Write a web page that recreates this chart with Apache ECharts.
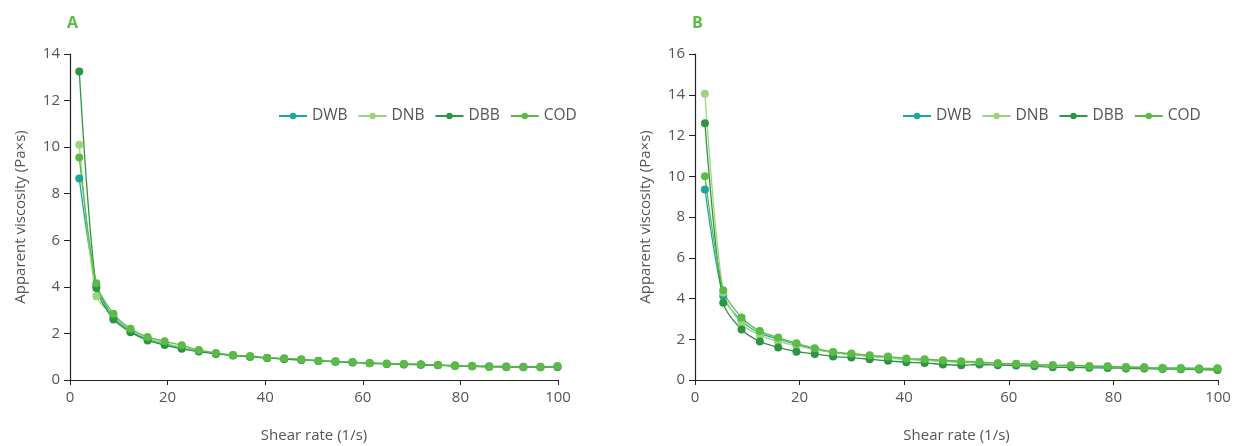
<!doctype html>
<html>
<head>
<meta charset="utf-8">
<title>Apparent viscosity vs shear rate</title>
<script src="https://cdn.jsdelivr.net/npm/echarts@6/dist/echarts.min.js"></script>
<style>
html,body{margin:0;padding:0;background:#fff;}
#chart{width:1234px;height:446px;}
</style>
</head>
<body>
<div id="chart"></div>
<script type="text/javascript">
// shear rate (1/s)
var shearRate = [1.9, 5.4, 8.9, 12.4, 15.9, 19.4, 22.9, 26.4, 29.9, 33.4, 36.9, 40.4, 43.9, 47.4, 50.9,
	54.4, 57.9, 61.4, 64.9, 68.4, 71.9, 75.4, 78.9, 82.4, 85.9, 89.4, 92.9, 96.4, 99.9];

// panel A
var dwbA = [8.65, 4.05, 2.7, 2.1, 1.75, 1.55, 1.38, 1.25, 1.14, 1.06, 1.0, 0.95, 0.91, 0.87, 0.83,
	0.79, 0.76, 0.73, 0.70, 0.68, 0.66, 0.64, 0.62, 0.60, 0.59, 0.58, 0.57, 0.57, 0.58];
var dnbA = [10.1, 3.6, 2.75, 2.15, 1.8, 1.58, 1.4, 1.26, 1.14, 1.06, 0.99, 0.94, 0.9, 0.86, 0.82,
	0.79, 0.76, 0.73, 0.71, 0.69, 0.67, 0.65, 0.63, 0.61, 0.59, 0.58, 0.57, 0.56, 0.57];
var dbbA = [13.25, 3.95, 2.6, 2.05, 1.7, 1.5, 1.34, 1.22, 1.12, 1.05, 1.0, 0.95, 0.9, 0.86, 0.82,
	0.78, 0.75, 0.72, 0.69, 0.67, 0.65, 0.63, 0.61, 0.59, 0.57, 0.56, 0.55, 0.55, 0.56];
var codA = [9.55, 4.15, 2.85, 2.2, 1.85, 1.66, 1.49, 1.29, 1.16, 1.07, 1.03, 0.96, 0.93, 0.89, 0.82,
	0.80, 0.77, 0.72, 0.70, 0.69, 0.68, 0.64, 0.60, 0.59, 0.56, 0.55, 0.55, 0.55, 0.60];

// panel B
var dwbB = [9.35, 4.12, 2.9, 2.3, 2.0, 1.75, 1.52, 1.36, 1.26, 1.17, 1.1, 1.03, 0.98, 0.93, 0.88,
	0.85, 0.81, 0.78, 0.75, 0.72, 0.7, 0.68, 0.66, 0.64, 0.62, 0.6, 0.59, 0.57, 0.56];
var dnbB = [14.05, 4.3, 2.75, 2.2, 1.88, 1.68, 1.5, 1.35, 1.25, 1.16, 1.08, 1.01, 0.96, 0.91, 0.87,
	0.83, 0.8, 0.77, 0.74, 0.71, 0.69, 0.67, 0.65, 0.63, 0.61, 0.6, 0.58, 0.57, 0.56];
var dbbB = [12.6, 3.79, 2.48, 1.89, 1.6, 1.39, 1.28, 1.15, 1.1, 1.02, 0.94, 0.87, 0.84, 0.76, 0.72,
	0.76, 0.72, 0.71, 0.68, 0.62, 0.62, 0.6, 0.59, 0.57, 0.56, 0.54, 0.53, 0.51, 0.49];
var codB = [10.0, 4.41, 3.07, 2.4, 2.08, 1.8, 1.56, 1.38, 1.3, 1.21, 1.15, 1.06, 1.02, 0.97, 0.92,
	0.89, 0.82, 0.8, 0.77, 0.72, 0.73, 0.68, 0.67, 0.62, 0.61, 0.58, 0.57, 0.55, 0.57];

var seriesNames = ['DWB', 'DNB', 'DBB', 'COD'];
var colors = ['#1aa89b', '#9dd47a', '#2d9445', '#5cbb47'];
var yMaxA = 14, yMaxB = 16;

function pairs(ys){
	var out = [];
	for(var i=0;i<ys.length;i++){
		out.push([shearRate[i], ys[i]]);
	}
	return out;
}

function makeSeries(name, ys, idx, color){
	return {
		name: name,
		type: 'line',
		xAxisIndex: idx,
		yAxisIndex: idx,
		data: pairs(ys),
		smooth: 0.25,
		symbol: 'circle',
		symbolSize: 8,
		lineStyle: {width: 1.3, color: color},
		itemStyle: {color: color},
		emphasis: {disabled: true}
	};
}

var textColor = '#555';
var fontFam = '"Open Sans", "Noto Sans", sans-serif';

function xAxisCfg(idx){
	return {
		gridIndex: idx,
		type: 'value',
		min: 0, max: 100, interval: 20,
		name: 'Shear rate (1/s)',
		nameLocation: 'middle',
		nameGap: 48,
		nameTextStyle: {color: textColor, fontSize: 15, fontFamily: fontFam},
		axisLine: {show: true, lineStyle: {color: '#222', width: 1.2}},
		axisTick: {show: true, length: 5, lineStyle: {color: '#222'}},
		axisLabel: {color: textColor, fontSize: 15, fontFamily: fontFam, margin: 10},
		splitLine: {show: false}
	};
}

function yAxisCfg(idx, max){
	return {
		gridIndex: idx,
		type: 'value',
		min: 0, max: max, interval: 2,
		name: 'Apparent viscosity (Pa×s)',
		nameLocation: 'middle',
		nameGap: 42,
		nameTextStyle: {color: textColor, fontSize: 15, fontFamily: fontFam},
		axisLine: {show: true, lineStyle: {color: '#222', width: 1.2}},
		axisTick: {show: true, length: 6, lineStyle: {color: '#222'}},
		axisLabel: {color: textColor, fontSize: 15, fontFamily: fontFam, margin: 10},
		splitLine: {show: false}
	};
}

function legendCfg(left){
	return {
		left: left,
		top: 103,
		itemWidth: 28,
		itemHeight: 8,
		itemGap: 10,
		data: seriesNames,
		textStyle: {color: textColor, fontSize: 15.5, fontFamily: fontFam}
	};
}

var option = {
	animation: false,
	title: [
		{text: 'A', left: 62, top: 10, textStyle: {color: '#5cbb47', fontSize: 16, fontWeight: 'bold', fontFamily: fontFam}},
		{text: 'B', left: 687, top: 10, textStyle: {color: '#5cbb47', fontSize: 16, fontWeight: 'bold', fontFamily: fontFam}}
	],
	legend: [legendCfg(273), legendCfg(897)],
	grid: [
		{left: 70, top: 54, width: 488, height: 326, outerBoundsMode: 'none'},
		{left: 695, top: 54, width: 523, height: 326, outerBoundsMode: 'none'}
	],
	xAxis: [xAxisCfg(0), xAxisCfg(1)],
	yAxis: [yAxisCfg(0, yMaxA), yAxisCfg(1, yMaxB)],
	series: [
		makeSeries(seriesNames[0], dwbA, 0, colors[0]),
		makeSeries(seriesNames[1], dnbA, 0, colors[1]),
		makeSeries(seriesNames[2], dbbA, 0, colors[2]),
		makeSeries(seriesNames[3], codA, 0, colors[3]),
		makeSeries(seriesNames[0], dwbB, 1, colors[0]),
		makeSeries(seriesNames[1], dnbB, 1, colors[1]),
		makeSeries(seriesNames[2], dbbB, 1, colors[2]),
		makeSeries(seriesNames[3], codB, 1, colors[3])
	]
};

echarts.init(document.getElementById('chart')).setOption(option);
</script>
</body>
</html>
